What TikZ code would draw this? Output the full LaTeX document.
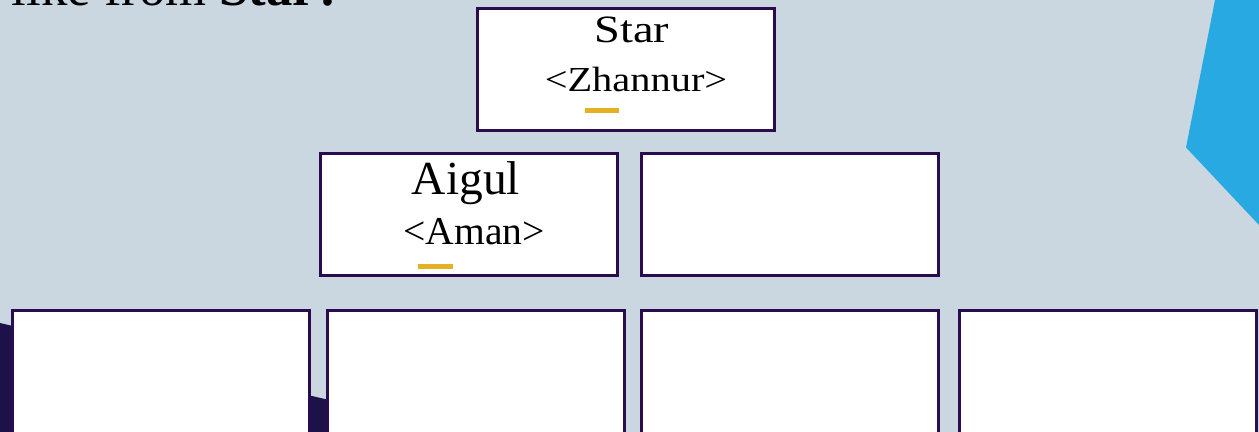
\documentclass[tikz,border=0pt]{standalone}
\usepackage{fontspec}
\setmainfont{Liberation Serif}
\usetikzlibrary{positioning}

\definecolor{slidebg}{HTML}{CAD7E1}
\definecolor{accentblue}{HTML}{29A9E1}
\definecolor{darknavy}{HTML}{1C1249}
\definecolor{boxedge}{HTML}{2A0B4E}
\definecolor{dashgold}{HTML}{E5B022}

\begin{document}
\begin{tikzpicture}[
    box/.style={draw=boxedge, fill=white, line width=0.06cm, rectangle,
                minimum width=5.94cm, minimum height=2.44cm, inner sep=0pt},
    tallbox/.style={box, minimum height=3cm},
    label text/.style={anchor=base, inner sep=0pt},
    cursor/.style={draw=dashgold, line width=0.1cm}]

\useasboundingbox (0,0) rectangle (25.18,-8.64);
\clip (0,0) rectangle (25.18,-8.64);

% slide background
\fill[slidebg] (0,0) rectangle (25.18,-8.64);
\fill[accentblue] (24.30,0) -- (23.72,-2.95) -- (25.18,-4.50) -- (25.18,0) -- cycle;
\fill[darknavy] (0,-6.46) -- (10.0,-8.80) -- (0,-8.80) -- cycle;

% question, cut at the top
\node[anchor=base east, inner sep=0pt, font=\fontsize{30}{36}\selectfont]
    (question) at (6.86,-0.12) {like from \textbf{Star?}};

% top level
\node[box] (star) at (12.52,-1.39) {};
\node[label text, font=\fontsize{22}{27}\selectfont]
    (starname) at ([xshift=0.12cm, yshift=-0.72cm]star.north) {\scalebox{1.2}[1]{Star}};
\node[label text, font=\fontsize{20}{24}\selectfont]
    (starnick) at ([xshift=0.2cm, yshift=-1.70cm]star.north) {\scalebox{1.15}[1]{<Zhannur>}};
\draw[cursor] ([xshift=-0.82cm, yshift=-2.08cm]star.north) -- ++(0.68,0);

% second level
\node[box] (aigul) at (9.38,-4.29) {};
\node[label text, font=\fontsize{27}{32}\selectfont]
    (aigulname) at ([xshift=-0.06cm, yshift=-0.86cm]aigul.north) {Aigul};
\node[label text, font=\fontsize{22.5}{27}\selectfont]
    (aigulnick) at ([xshift=0.1cm, yshift=-1.86cm]aigul.north) {<Aman>};
\draw[cursor] ([xshift=-1.02cm, yshift=-2.29cm]aigul.north) -- ++(0.7,0);

\node[box] (second) at (15.79,-4.29) {};

% third level
\node[tallbox] (thirdA) at (3.22,-7.71) {};
\node[tallbox] (thirdB) at (9.51,-7.71) {};
\node[tallbox] (thirdC) at (15.80,-7.71) {};
\node[tallbox] (thirdD) at (22.15,-7.71) {};

\end{tikzpicture}
\end{document}
